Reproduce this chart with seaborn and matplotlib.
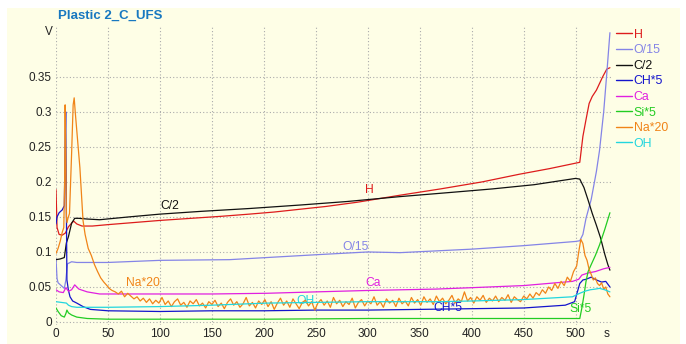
import numpy as np
import pandas as pd
import seaborn as sns
import matplotlib
matplotlib.use("Agg")
import matplotlib.pyplot as plt
from matplotlib.lines import Line2D
from matplotlib.patches import Rectangle

# ---------------------------------------------------------------- data
series_names = ["H", "O/15", "C/2", "CH*5", "Ca", "Si*5", "Na*20", "OH"]

h_t = [0, 1, 3, 6, 9, 12, 15, 17, 20, 25, 35, 50, 75, 100, 130, 160, 186, 210,
       235, 260, 290, 331, 370, 410, 446, 475, 504, 507, 510, 513, 516, 520,
       526, 530, 533]
h_v = [0.189, 0.135, 0.125, 0.124, 0.127, 0.136, 0.141, 0.144, 0.140, 0.137,
       0.137, 0.139, 0.142, 0.145, 0.148, 0.151, 0.154, 0.157, 0.161, 0.165,
       0.171, 0.181, 0.190, 0.200, 0.211, 0.219, 0.228, 0.265, 0.289, 0.312,
       0.322, 0.331, 0.350, 0.361, 0.363]

o_t = [0, 1, 2, 5, 8, 9.5, 11, 15, 20, 50, 100, 167, 250, 300, 331, 400, 450,
       500, 504, 507, 510, 515, 520, 523, 527, 530, 533]
o_v = [0.090, 0.062, 0.056, 0.052, 0.048, 0.060, 0.083, 0.086, 0.085, 0.085,
       0.088, 0.089, 0.096, 0.100, 0.099, 0.104, 0.109, 0.115, 0.116, 0.125,
       0.148, 0.175, 0.215, 0.245, 0.300, 0.355, 0.413]

c_t = [0, 4, 8, 10, 12, 15, 18, 22, 30, 42, 70, 100, 140, 186, 235, 280, 331,
       380, 420, 460, 500, 504, 508, 512, 516, 520, 524, 528, 531, 533]
c_v = [0.089, 0.090, 0.092, 0.113, 0.122, 0.141, 0.148, 0.148, 0.147, 0.146,
       0.150, 0.154, 0.158, 0.162, 0.167, 0.172, 0.179, 0.185, 0.190, 0.196,
       0.205, 0.204, 0.192, 0.174, 0.155, 0.138, 0.120, 0.097, 0.082, 0.074]

ch_t = [0, 1, 3, 6, 8, 8.8, 9.3, 9.8, 10.5, 12, 13.5, 16, 20, 26, 33, 50, 100,
        150, 200, 250, 300, 350, 400, 450, 490, 499, 504, 507, 510, 515, 520,
        525, 529, 533]
ch_v = [0.140, 0.150, 0.156, 0.160, 0.166, 0.250, 0.300, 0.200, 0.060, 0.045,
        0.036, 0.030, 0.027, 0.022, 0.018, 0.016, 0.015, 0.016, 0.016, 0.017,
        0.017, 0.018, 0.019, 0.020, 0.024, 0.029, 0.055, 0.060, 0.061, 0.064,
        0.060, 0.057, 0.058, 0.050]

ca_t = [0, 3, 7, 9.5, 12, 15, 18, 22, 30, 42, 100, 150, 203, 250, 300, 366,
        400, 450, 497, 503, 506, 512, 519, 527, 533]
ca_v = [0.046, 0.043, 0.042, 0.049, 0.044, 0.046, 0.053, 0.047, 0.043, 0.040,
        0.040, 0.040, 0.041, 0.043, 0.045, 0.047, 0.049, 0.052, 0.058, 0.061,
        0.067, 0.070, 0.072, 0.076, 0.078]

si_t = [0, 2, 5, 8, 9.5, 10.5, 12, 15, 20, 30, 50, 100, 200, 300, 400, 500,
        504, 506, 508, 510, 512, 515, 519, 523, 528, 533]
si_v = [0.020, 0.015, 0.009, 0.007, 0.012, 0.017, 0.013, 0.010, 0.007, 0.005,
        0.004, 0.004, 0.004, 0.005, 0.005, 0.005, 0.005, 0.020, 0.038, 0.058,
        0.072, 0.082, 0.095, 0.110, 0.132, 0.156]

na_t = ([0, 2, 4, 6, 7.5, 8.3, 8.8, 9.4, 10, 10.6, 11.5, 13, 15, 16.5, 17.5,
         18.5, 20.5, 23, 26, 28, 31, 34, 37, 40, 43, 46, 49, 52]
        + list(range(54, 499, 3))
        + [501, 503, 505, 507, 509, 511, 513, 515, 517, 519, 521, 523, 525,
           527, 529, 531, 533])
na_v = ([0.098, 0.105, 0.115, 0.128, 0.135, 0.200, 0.310, 0.240, 0.150, 0.142,
         0.148, 0.155, 0.240, 0.310, 0.320, 0.300, 0.265, 0.220, 0.145, 0.125,
         0.105, 0.095, 0.082, 0.072, 0.063, 0.057, 0.052, 0.047]
        + [0.045, 0.043, 0.040, 0.044, 0.036, 0.041, 0.037, 0.033, 0.036, 0.030,
           0.034, 0.028, 0.033, 0.026, 0.031, 0.027, 0.035, 0.025, 0.030, 0.022,
           0.029, 0.033, 0.024, 0.028, 0.021, 0.030, 0.026, 0.032, 0.023, 0.027,
           0.020, 0.029, 0.025, 0.031, 0.022, 0.027, 0.019, 0.028, 0.033, 0.024,
           0.029, 0.021, 0.026, 0.035, 0.023, 0.028, 0.020, 0.030, 0.025, 0.032,
           0.022, 0.029, 0.018, 0.027, 0.034, 0.024, 0.030, 0.021, 0.033, 0.026,
           0.019, 0.028, 0.031, 0.023, 0.029, 0.017, 0.027, 0.032, 0.024, 0.030,
           0.021, 0.035, 0.026, 0.031, 0.022, 0.029, 0.025, 0.034, 0.020, 0.028,
           0.032, 0.023, 0.030, 0.026, 0.036, 0.024, 0.029, 0.021, 0.033, 0.027,
           0.031, 0.022, 0.034, 0.026, 0.030, 0.023, 0.035, 0.027, 0.032, 0.024,
           0.036, 0.028, 0.033, 0.025, 0.037, 0.029, 0.034, 0.026, 0.031, 0.038,
           0.027, 0.033, 0.029, 0.043, 0.030, 0.035, 0.027, 0.036, 0.031, 0.038,
           0.028, 0.034, 0.030, 0.037, 0.029, 0.035, 0.031, 0.039, 0.028, 0.036,
           0.032, 0.029, 0.037, 0.033, 0.040, 0.034, 0.042, 0.038, 0.046, 0.041,
           0.050, 0.045, 0.055, 0.048, 0.058, 0.052, 0.064, 0.058, 0.072]
        + [0.080, 0.100, 0.118, 0.112, 0.095, 0.088, 0.075, 0.068, 0.060, 0.063,
           0.055, 0.052, 0.056, 0.047, 0.050, 0.040, 0.036])

oh_t = [0, 5, 10, 12, 15, 20, 50, 100, 150, 203, 250, 300, 369, 400, 450, 497,
        504, 509, 514, 519, 523, 528, 533]
oh_v = [0.029, 0.028, 0.027, 0.024, 0.022, 0.021, 0.021, 0.022, 0.024, 0.027,
        0.028, 0.029, 0.029, 0.030, 0.032, 0.036, 0.041, 0.044, 0.046, 0.047,
        0.048, 0.046, 0.043]

series_t = [h_t, o_t, c_t, ch_t, ca_t, si_t, na_t, oh_t]
series_v = [h_v, o_v, c_v, ch_v, ca_v, si_v, na_v, oh_v]

line_colors = ["#dd1c1c", "#8484e6", "#111111", "#1414cc",
               "#e020e0", "#22cc22", "#f08418", "#22d6de"]

# in-plot annotations: (text, t, value, colour)
labels_t = [109.6, 302, 288, 83.6, 305, 240, 377, 505]
labels_v = [0.166, 0.189, 0.107, 0.055, 0.055, 0.030, 0.0195, 0.0185]
labels_s = ["C/2", "H", "O/15", "Na*20", "Ca", "OH", "CH*5", "Si*5"]
labels_c = ["#111111", "#dd1c1c", "#8484e6", "#f08418", "#e020e0",
            "#22d6de", "#1414cc", "#22cc22"]

x_ticks = list(range(0, 501, 50))
y_ticks = [0, 0.05, 0.1, 0.15, 0.2, 0.25, 0.3, 0.35]
y_tick_labels = ["0", "0.05", "0.1", "0.15", "0.2", "0.25", "0.3", "0.35"]

# ---------------------------------------------------------------- frame
df = pd.concat(
    [pd.DataFrame({"t": t, "v": v, "series": n})
     for n, t, v in zip(series_names, series_t, series_v)],
    ignore_index=True,
)

bg = "#fefee6"
sns.set_theme(style="white")
plt.rcParams["font.family"] = ["Liberation Sans", "DejaVu Sans"]

W, H = 686, 344
fig = plt.figure(figsize=(W / 100, H / 100), dpi=100, facecolor="white")
fig.patches.append(Rectangle((7 / W, 0), (680 - 7) / W, (H - 8) / H,
                             transform=fig.transFigure, facecolor=bg,
                             edgecolor="none", zorder=-10))

y0, y1 = -0.004, 0.424
ax_bottom_px = 322 + (0 - y0) * 700
ax_top_px = 25
ax = fig.add_axes([56 / W, 1 - ax_bottom_px / H, (612 - 56) / W,
                   (ax_bottom_px - ax_top_px) / H])
ax.set_facecolor(bg)

sns.lineplot(data=df, x="t", y="v", hue="series", hue_order=series_names,
             palette=line_colors, estimator=None, sort=False, lw=0.9,
             legend=False, ax=ax, zorder=3)

ax.set_xlim(0, 535)
ax.set_ylim(y0, y1)
ax.set_xticks(x_ticks)
ax.set_yticks(y_ticks)
ax.set_yticklabels(y_tick_labels)
ax.set_xlabel("")
ax.set_ylabel("")
for s in ax.spines.values():
    s.set_visible(False)
ax.tick_params(axis="both", length=0, labelsize=8.5, colors="#222222")
ax.tick_params(axis="x", pad=2.5)
ax.tick_params(axis="y", pad=3)
ax.grid(True, color="#ababab", lw=0.8, linestyle=(0, (1, 2)))
ax.set_axisbelow(True)

# unit labels
ax.annotate("V", xy=(0, 0.414), xycoords=("axes fraction", "data"),
            xytext=(-2.5, 0), textcoords="offset points", ha="right",
            va="center", fontsize=8.5, color="#222222", annotation_clip=False)
ax.annotate("s", xy=(530, 0), xycoords=("data", "axes fraction"),
            xytext=(0, -2.5), textcoords="offset points", ha="center",
            va="top", fontsize=8.5, color="#222222", annotation_clip=False)

# series names written inside the plot
for s, t, v, c in zip(labels_s, labels_t, labels_v, labels_c):
    ax.text(t, v, s, color=c, fontsize=8.7, ha="center", va="center",
            zorder=2)

# legend on the right
handles = [Line2D([], [], color=c, lw=1.0) for c in line_colors]
leg = ax.legend(handles, series_names, loc="upper left",
                bbox_to_anchor=(1.0, 1.0), frameon=False, handlelength=1.3,
                handletextpad=0.15, labelspacing=0.29, borderaxespad=0.2,
                borderpad=0.1, fontsize=8.9, labelcolor="linecolor")

fig.text(58 / W, 1 - 16 / H, "Plastic 2_C_UFS", color="#1878c0",
         fontsize=9.5, fontweight="bold", ha="left", va="center")

fig.savefig("out.png", dpi=100, facecolor=fig.get_facecolor())
